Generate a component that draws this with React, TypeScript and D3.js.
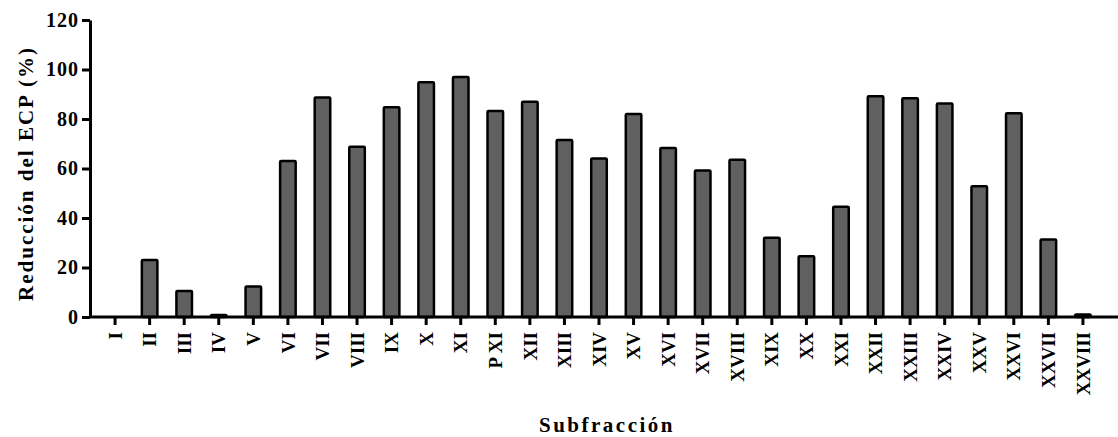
import React, { useEffect, useRef } from "react";
import * as d3 from "d3";

const categories = [
  "I", "II", "III", "IV", "V", "VI", "VII", "VIII", "IX", "X", "XI", "P XI",
  "XII", "XIII", "XIV", "XV", "XVI", "XVII", "XVIII", "XIX", "XX", "XXI",
  "XXII", "XXIII", "XXIV", "XXV", "XXVI", "XXVII", "XXVIII",
];
const values = [
  0, 23, 10.5, 0.8, 12.3, 63, 88.7, 68.8, 84.7, 94.8, 97, 83.2,
  87, 71.5, 64, 82, 68.3, 59.2, 63.5, 32, 24.5, 44.5,
  89.2, 88.4, 86.3, 52.8, 82.3, 31.3, 1,
];
const yTicks = [0, 20, 40, 60, 80, 100, 120];

const App = () => {
  const svgRef = useRef<SVGSVGElement>(null);

  useEffect(() => {
    const width = 1118;
    const height = 437;
    const left = 90;
    const right = 1108;
    const top = 20;
    const bottom = 317;
    const font = "'Liberation Serif', 'Times New Roman', serif";

    const svg = d3.select(svgRef.current);
    svg.selectAll("*").remove();
    svg.attr("width", width).attr("height", height);

    const data = categories.map((c, i) => ({ c, v: values[i] }));

    const x = d3.scaleBand().domain(categories).range([left, right]).paddingInner(0.55).paddingOuter(0.5);
    const y = d3.scaleLinear().domain([0, 120]).range([bottom, top]);

    // bars
    svg
      .selectAll(".bar")
      .data(data)
      .enter()
      .append("rect")
      .attr("x", (d) => x(d.c)!)
      .attr("y", (d) => y(d.v))
      .attr("width", x.bandwidth())
      .attr("height", (d) => bottom - y(d.v))
      .attr("rx", 1)
      .attr("fill", "#606060")
      .attr("stroke", "#000")
      .attr("stroke-width", 2.5)
      .attr("stroke-linejoin", "round");

    // y axis
    const yAxis = svg
      .append("g")
      .attr("transform", `translate(${left},0)`)
      .call(d3.axisLeft(y).tickValues(yTicks).tickSize(8).tickPadding(3).tickSizeOuter(0));
    yAxis.select(".domain").attr("stroke-width", 3);
    yAxis.selectAll(".tick line").attr("stroke-width", 3);
    yAxis
      .selectAll("text")
      .attr("font-family", font)
      .attr("font-weight", "bold")
      .attr("font-size", 20)
      .attr("letter-spacing", "1px")
      .attr("fill", "#000");

    // x axis, labels turned to read upward
    const xAxis = svg
      .append("g")
      .attr("transform", `translate(0,${bottom})`)
      .call(d3.axisBottom(x).tickSize(8).tickSizeOuter(0));
    xAxis.select(".domain").attr("d", `M${left},0H${width}`).attr("stroke-width", 3);
    xAxis.selectAll(".tick line").attr("stroke-width", 3);
    xAxis
      .selectAll("text")
      .attr("font-family", font)
      .attr("font-weight", "bold")
      .attr("font-size", 19)
      .attr("fill", "#000")
      .attr("transform", "rotate(-90)")
      .attr("x", -15)
      .attr("y", 0)
      .attr("dy", "0.35em")
      .style("text-anchor", "end");

    // axis titles
    svg
      .append("text")
      .attr("transform", `translate(33,${(top + bottom) / 2 + 5}) rotate(-90)`)
      .attr("text-anchor", "middle")
      .attr("font-family", font)
      .attr("font-weight", "bold")
      .attr("font-size", 21)
      .attr("letter-spacing", "2px")
      .text("Reducción del ECP (%)");

    svg
      .append("text")
      .attr("x", 607)
      .attr("y", 432)
      .attr("text-anchor", "middle")
      .attr("font-family", font)
      .attr("font-weight", "bold")
      .attr("font-size", 21)
      .attr("letter-spacing", "2.5px")
      .text("Subfracción");
  }, []);

  return (
    <svg
      ref={svgRef}
      style={{ position: "absolute", left: 0, top: 0, background: "#fff" }}
    ></svg>
  );
};

export default App;
